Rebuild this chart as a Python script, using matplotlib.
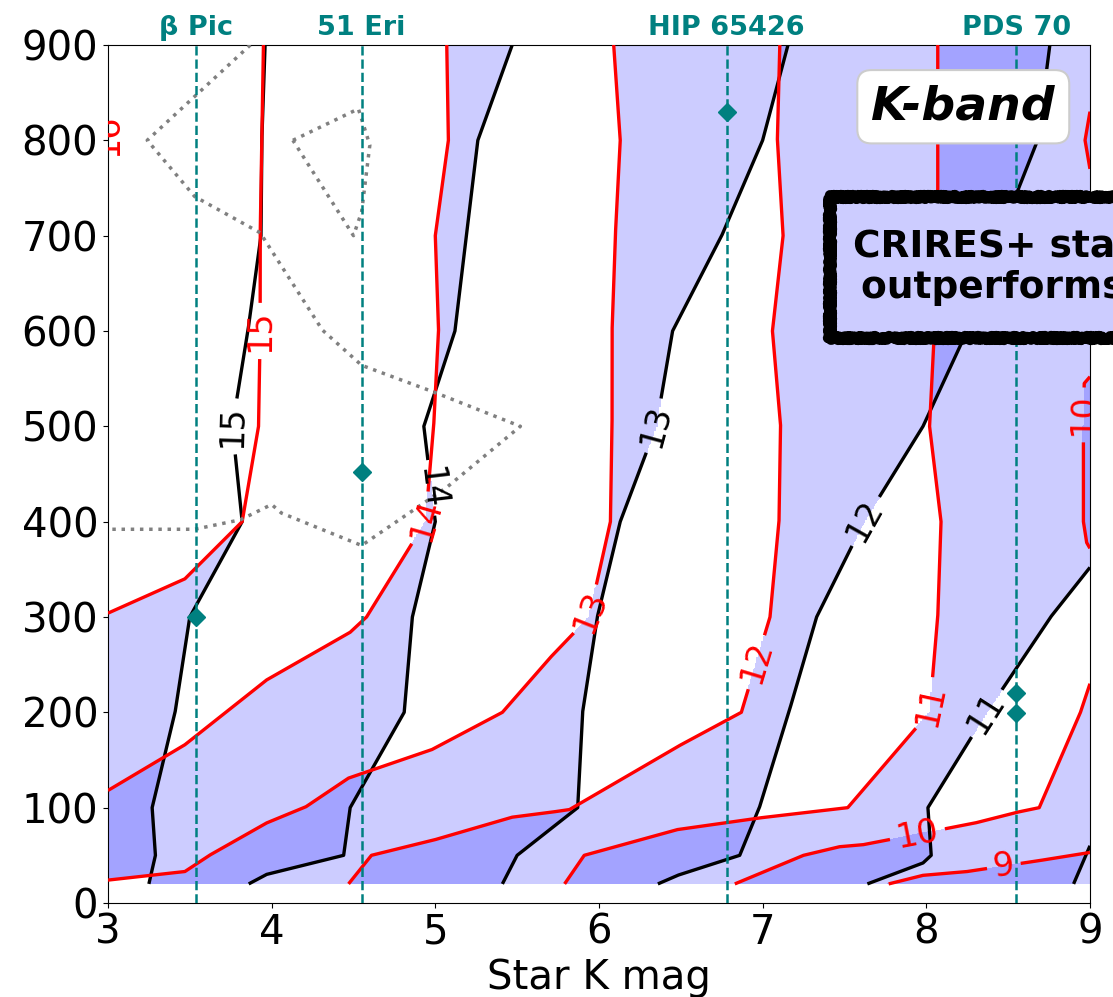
import numpy as np
import matplotlib
matplotlib.use("Agg")
import matplotlib.pyplot as plt
from matplotlib.path import Path
from matplotlib.patches import Rectangle
import matplotlib.transforms as mtransforms

# contour lines: level -> list of pieces, each a list of (K mag, separation)
black_lines = {
    15: [[(3.25, 20), (3.29, 50), (3.27, 100), (3.41, 200), (3.50, 300), (3.82, 400), (3.76, 500),
          (3.855, 600), (3.935, 700), (3.94, 800), (3.96, 900)]],
    14: [[(3.86, 20), (3.97, 30), (4.44, 50), (4.48, 100), (4.81, 200), (4.86, 300), (5.00, 400),
          (4.93, 500), (5.12, 600), (5.19, 700), (5.26, 800), (5.47, 900)]],
    13: [[(5.41, 20), (5.50, 50), (5.87, 100), (5.90, 200), (5.99, 300), (6.13, 400), (6.35, 500),
          (6.45, 600), (6.75, 700), (7.0, 800), (7.155, 900)]],
    12: [[(6.36, 20), (6.48, 29), (6.86, 50), (6.98, 100), (7.16, 200), (7.33, 300), (7.62, 400),
          (7.98, 500), (8.25, 600), (8.45, 700), (8.68, 800), (8.755, 900)]],
    11: [[(7.64, 20), (7.98, 42), (8.03, 50), (8.01, 100), (8.37, 200), (8.76, 300), (9.0, 352)]],
    10: [[(8.90, 20), (9.0, 60)]],
}
red_lines = {
    15: [[(3.0, 304), (3.47, 340), (3.82, 400), (3.92, 500), (3.93, 600), (3.93, 700), (3.94, 800),
          (3.95, 900)]],
    14: [[(3.0, 118), (3.47, 166), (3.97, 234), (4.48, 284), (4.58, 300), (4.94, 400), (4.99, 500),
          (5.02, 600), (5.0, 700), (5.08, 800), (5.07, 900)]],
    13: [[(3.0, 24), (3.47, 33), (3.62, 50), (3.97, 84), (4.21, 101), (4.47, 131), (4.98, 161),
          (5.41, 200), (5.70, 257), (5.94, 300), (6.07, 400), (6.08, 500), (6.08, 600), (6.10, 700),
          (6.13, 800), (6.09, 900)]],
    12: [[(4.47, 20), (4.61, 50), (4.99, 66), (5.47, 90), (5.70, 95), (5.82, 98), (6.48, 164),
          (6.87, 200), (7.045, 300), (7.10, 400), (7.11, 500), (7.06, 600), (7.125, 700), (7.09, 800),
          (7.105, 900)]],
    11: [[(5.79, 20), (5.91, 50), (6.48, 77), (6.97, 89), (7.52, 100), (8.02, 200), (8.07, 300),
          (8.09, 400), (8.02, 500), (8.05, 600), (8.07, 700), (8.07, 800), (8.07, 900)]],
    10: [[(6.83, 20), (7.25, 50), (7.47, 59), (7.61, 61), (8.30, 84), (8.55, 95), (8.69, 100),
          (8.94, 199), (9.0, 230)],
         [(9.0, 552), (8.965, 545), (8.96, 500), (8.96, 400), (8.98, 378), (9.0, 372)],
         [(9.0, 830), (8.97, 800), (9.0, 770)]],
    9: [[(7.77, 20), (7.98, 29), (8.25, 33), (8.71, 45), (9.0, 53)]],
}

black_labels = [(15, (3.77, 500)), (14, (4.98, 435)), (13, (6.35, 500)), (12, (7.58, 405)),
                (11, (8.33, 203))]
red_labels = [(15, (3.92, 600)), (14, (4.955, 402)), (13, (5.91, 307)), (12, (6.97, 252)),
              (11, (8.01, 208)), (10, (7.95, 68)), (10, (8.96, 512)), (9, (8.47, 40))]

# grey dotted outlines
grey_a = [(3.87, 900), (3.24, 800), (3.53, 741), (3.93, 703), (4.31, 601), (4.55, 564), (4.99, 536),
          (5.52, 500), (5.07, 436), (4.55, 375), (4.06, 409), (4.0, 418), (3.81, 402), (3.53, 392),
          (3.0, 392)]
grey_b = [(4.13, 800), (4.53, 833), (4.60, 795), (4.55, 725), (4.50, 700), (4.13, 800)]

# known systems
star_names = ["β Pic", "51 Eri", "HIP 65426", "PDS 70"]
star_kmag = [3.54, 4.55, 6.78, 8.55]
planet_kmag = [3.54, 4.55, 6.78, 8.55, 8.55]
planet_sep = [300, 452, 830, 220, 199]

LIGHT = "#ccccff"
DARK = "#a3a3ff"
TEAL = "teal"
LABEL_FS = 24

fig = plt.figure(figsize=(11.13, 9.97), dpi=100)
ax = fig.add_axes([0.097, 0.0943, 0.8823, 0.8606])
ax.set_xlim(3, 9)
ax.set_ylim(0, 900)


# ---- filled regions: difference between floored black and red levels ----
def edge_of(p):
    x, y = p
    if x <= 3.001:
        return "left"
    if x >= 8.999:
        return "right"
    if y >= 899.9:
        return "top"
    return "bottom"


def project(p):
    e = edge_of(p)
    return {"left": (2.0, p[1]), "right": (10.0, p[1]),
            "top": (p[0], 1100.0), "bottom": (p[0], -200.0)}[e]


corner = {"right": (10.0, 1100.0), "top": (2.0, 1100.0), "left": (2.0, -200.0), "bottom": (10.0, -200.0)}
nxt = {"right": "top", "top": "left", "left": "bottom", "bottom": "right"}


def high_side(piece, pts):
    start, end = piece[0], piece[-1]
    if edge_of(start) == edge_of(end):
        return ~Path(piece + [piece[0]]).contains_points(pts)
    verts = list(piece) + [project(end)]
    e = edge_of(end)
    while True:
        verts.append(corner[e])
        e = nxt[e]
        if e == edge_of(start):
            break
    verts.append(project(start))
    return Path(verts).contains_points(pts)


def floor_level(lines, base, pts):
    out = np.full(pts.shape[0], base)
    for lev, pieces in lines.items():
        inside = np.ones(pts.shape[0], bool)
        for pc in pieces:
            inside &= high_side(pc, pts)
        out += inside
    return out


gx = np.linspace(3, 9, 601)
gy = np.linspace(20, 900, 881)
GX, GY = np.meshgrid(gx, gy)
grid_pts = np.column_stack([GX.ravel(), GY.ravel()])
diff = (floor_level(black_lines, 9, grid_pts) - floor_level(red_lines, 8, grid_pts)).reshape(GX.shape)
ax.contourf(GX, GY, diff, levels=[0.5, 1.5, 2.5], colors=[LIGHT, DARK], zorder=1)

# ---- contour lines with inline labels ----
renderer = fig.canvas.get_renderer()


def draw_piece(piece, color, labels):
    disp = ax.transData.transform(np.array(piece, float))
    dense = [disp[0]]
    for a, b in zip(disp[:-1], disp[1:]):
        n = max(int(np.hypot(*(b - a))), 1)
        t = np.linspace(0, 1, n + 1)[1:]
        dense.extend(a + np.outer(t, b - a))
    dense = np.array(dense)
    s = np.concatenate([[0], np.cumsum(np.hypot(*np.diff(dense, axis=0).T))])
    keep = np.ones(len(dense), bool)
    for txt, pos in labels:
        p = ax.transData.transform(pos)
        i = np.argmin(np.hypot(*(dense - p).T))
        j1 = np.argmin(abs(s - (s[i] - 12)))
        j2 = np.argmin(abs(s - (s[i] + 12)))
        d = dense[j2] - dense[j1]
        ang = np.degrees(np.arctan2(d[1], d[0]))
        if ang > 90:
            ang -= 180
        if ang <= -90:
            ang += 180
        xy = ax.transData.inverted().transform(dense[i])
        t = ax.text(xy[0], xy[1], str(txt), color=color, fontsize=LABEL_FS, ha="center", va="center",
                    rotation_mode="anchor", clip_on=True, zorder=4)
        w = t.get_window_extent(renderer).width
        t.set_rotation(ang)
        keep[abs(s - s[i]) < w / 2 + 6] = False
    runs = np.split(np.arange(len(dense)), np.where(np.diff(keep.astype(int)) != 0)[0] + 1)
    for r in runs:
        if keep[r[0]] and len(r) > 1:
            dd = ax.transData.inverted().transform(dense[r])
            ax.plot(dd[:, 0], dd[:, 1], color=color, lw=2.4, zorder=3, solid_capstyle="butt")


def draw_level_set(lines, labels, color):
    for lev, pieces in lines.items():
        labs = [(l, p) for l, p in labels if l == lev]
        for pc in pieces:
            # a label goes on the piece of its level that lies nearest to it
            sel = []
            for l, p in labs:
                dp = ax.transData.transform(p)
                best = min(pieces, key=lambda q: np.min(
                    np.hypot(*(ax.transData.transform(np.array(q, float)) - dp).T)))
                if best is pc:
                    sel.append((l, p))
            draw_piece(pc, color, sel)


draw_level_set(black_lines, black_labels, "black")
draw_level_set(red_lines, red_labels, "red")

# partially visible label of the 16 level at the left edge
ax.text(3.0, 806, "16", color="red", fontsize=LABEL_FS, rotation=90, ha="center", va="center",
        clip_on=True, zorder=4)

# grey dotted outlines
for g in (grey_a, grey_b):
    g = np.array(g)
    ax.plot(g[:, 0], g[:, 1], ls=":", color="gray", lw=2.5, zorder=3.5)

# systems
trans = mtransforms.blended_transform_factory(ax.transData, ax.transAxes)
for name, k in zip(star_names, star_kmag):
    ax.axvline(k, color=TEAL, ls="--", lw=1.8, zorder=5)
    ax.text(k, 1.005, name, transform=trans, ha="center", va="bottom", color=TEAL,
            fontweight="bold", fontsize=19.5)
ax.plot(planet_kmag, planet_sep, ls="none", marker="D", ms=9, color=TEAL, zorder=6)

ax.text(0.871, 0.928, "K-band", transform=ax.transAxes, fontsize=34, fontweight="bold",
        fontstyle="italic", ha="center", va="center", zorder=7,
        bbox=dict(boxstyle="round,pad=0.3", fc="white", ec="#cccccc", lw=1.5))

# rough-edged box running off the right side of the figure
frame = Rectangle((0.7352, 0.6585), 0.35, 0.1643, transform=ax.transAxes, fc=LIGHT, ec="black",
                  lw=7.5, joinstyle="round", clip_on=False, zorder=8)
frame.set_sketch_params(scale=2, length=3, randomness=2)
ax.add_patch(frame)
ax.text(0.7587, 0.7407, "CRIRES+ standalone\noutperforms HiRISE", transform=ax.transAxes,
        fontsize=27, fontweight="bold", ha="left", va="center", multialignment="center",
        clip_on=False, zorder=9)

ax.set_xticks(np.arange(3, 10, 1))
ax.set_yticks(np.arange(0, 901, 100))
ax.tick_params(labelsize=29)
ax.set_xlabel("Star K mag", fontsize=29)

fig.savefig("out.png", dpi=100)
